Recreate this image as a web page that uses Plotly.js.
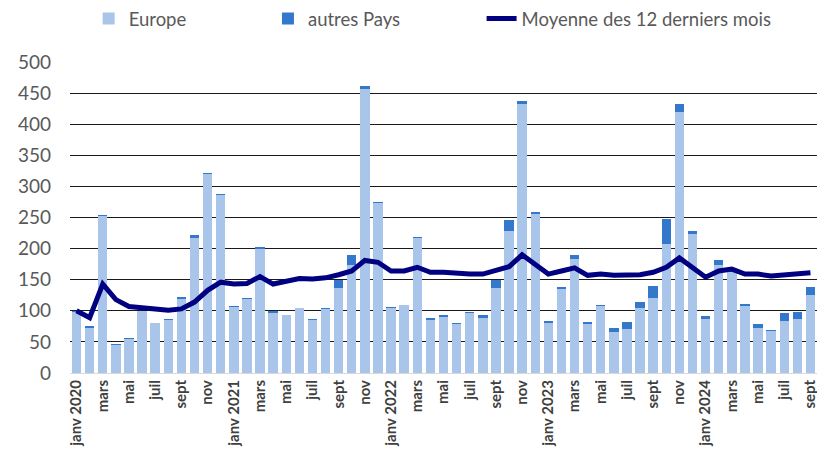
<!DOCTYPE html>
<html>
<head>
<meta charset="utf-8">
<script src="https://cdn.plot.ly/plotly-3.0.1.min.js"></script>
<style>html,body{margin:0;padding:0;background:#fff}#chart{width:817px;height:458px}</style>
</head>
<body>
<div id="chart"></div>
<script>
const monthNames = ["janv","févr","mars","avr","mai","juin","juil","août","sept","oct","nov","déc"];
const years = [2020, 2021, 2022, 2023, 2024];
const categories = [];
years.forEach(y => monthNames.forEach(m => { if (categories.length < 57) categories.push(m + " " + y); }));

const europe = [98,73,252,45,55,99,80,85,119,217,320,286,
                106,119,200,97,93,104,86,103,137,173,457,274,
                104,109,217,85,90,79,96,89,136,229,433,255,
                81,135,184,78,108,66,70,104,120,208,420,224,
                87,174,163,107,73,67,83,87,126];
const autres = [2,2,2,1,1,1,1,2,3,5,2,1,
                2,1,2,2,1,1,1,1,13,16,4,1,
                2,1,2,3,4,2,2,4,14,17,4,4,
                3,4,5,4,2,7,12,10,20,39,13,5,
                4,7,2,4,5,2,13,11,12];
const moyenne = [100,89,143,118,107,106,103,101,103,114,133,146,
                 143,144,155,143,148,152,151,153,158,164,181,178,
                 164,164,170,162,162,160,159,159,164,171,190,175,
                 159,164,169,157,159,157,157,158,162,170,185,169,
                 154,164,167,159,159,156,158,159,161];

const tickShort = ["janv 2020","mars","mai","juil","sept","nov",
                   "janv 2021","mars","mai","juil","sept","nov",
                   "janv 2022","mars","mai","juil","sept","nov",
                   "janv 2023","mars","mai","juil","sept","nov",
                   "janv 2024","mars","mai","juil","sept"];
const tickVals = categories.filter((c, i) => i % 2 === 0);

const font = "Lato, 'Open Sans', sans-serif";

const traces = [
  {type: "bar", name: "Europe", x: categories, y: europe,
   marker: {color: "#A9C6EA"}, legend: "legend"},
  {type: "bar", name: "autres Pays", x: categories, y: autres,
   marker: {color: "#3478CC"}, legend: "legend2"},
  {type: "scatter", mode: "lines", name: "Moyenne des 12 derniers mois", x: categories, y: moyenne,
   line: {color: "#000080", width: 5}, legend: "legend3"}
];

const legendBase = {orientation: "h", yanchor: "top", y: 1.2, xanchor: "left",
  font: {family: font, size: 18.5, color: "#595959"}, bgcolor: "rgba(0,0,0,0)"};

const layout = {
  width: 817, height: 458,
  margin: {l: 70, r: 0, t: 61, b: 85},
  paper_bgcolor: "#fff", plot_bgcolor: "#fff",
  barmode: "stack", bargap: 0.28,
  showlegend: true,
  legend: Object.assign({}, legendBase, {x: 0.025}),
  legend2: Object.assign({}, legendBase, {x: 0.265}),
  legend3: Object.assign({}, legendBase, {x: 0.551}),
  xaxis: {
    type: "category", tickmode: "array", tickvals: tickVals, ticktext: tickShort,
    tickangle: -90, tickfont: {family: font, size: 15, color: "#404040", weight: "bold"},
    showgrid: false, showline: true, linecolor: "#d9d9d9", linewidth: 1, ticks: "",
    fixedrange: true
  },
  yaxis: {
    range: [0, 500], dtick: 50, tick0: 0,
    showgrid: true, gridcolor: "#1a1a1a", gridwidth: 1,
    zeroline: false, showline: false, ticks: "",
    ticklabelstandoff: 18,
    tickfont: {family: font, size: 19, color: "#595959"},
    fixedrange: true
  },
  font: {family: font}
};

Plotly.newPlot("chart", traces, layout, {displayModeBar: false, staticPlot: true});
</script>
</body>
</html>
